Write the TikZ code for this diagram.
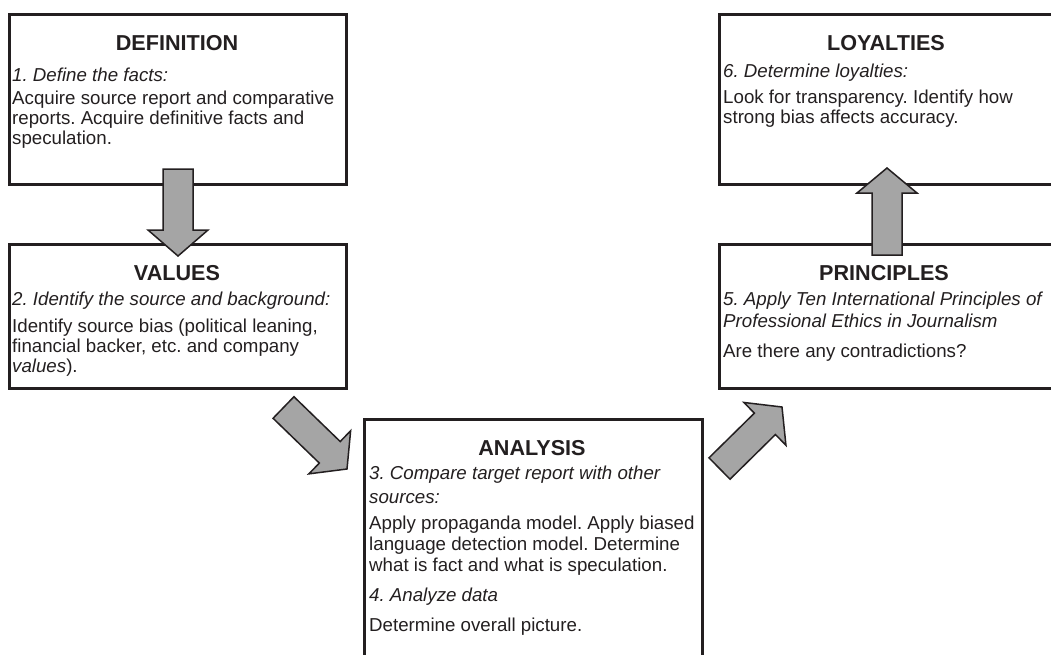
\documentclass[tikz,border=0pt]{standalone}
\usepackage{fontspec}
\setmainfont{Liberation Sans}
\usetikzlibrary{calc}
\frenchspacing
\definecolor{ink}{HTML}{231F20}
\definecolor{arrowgray}{HTML}{A5A5A5}
\tikzset{
  box/.style={draw=ink, line width=3.4pt, anchor=north west, inner sep=0pt},
  head/.style={anchor=base, inner sep=0pt, text=ink, font=\fontsize{21.6}{24}\selectfont\bfseries},
  sub/.style={anchor=base west, inner sep=0pt, text=ink, font=\fontsize{18.7}{20}\selectfont\itshape},
  body/.style={anchor=base west, inner sep=0pt, text=ink, font=\fontsize{18.7}{20}\selectfont},
  barrow/.style={draw=ink, fill=arrowgray, line width=1.5pt, line join=miter}
}
\newcommand\blockarrow[3]{%
  \coordinate (#1-h) at ($(#2)!#3!(#1)$);
  \draw[barrow] ($(#1)!15pt!90:(#2)$) -- ($(#1-h)!15pt!90:(#2)$) -- ($(#1-h)!30pt!90:(#2)$) -- (#2)
    -- ($(#1-h)!30pt!-90:(#2)$) -- ($(#1-h)!15pt!-90:(#2)$) -- ($(#1)!15pt!-90:(#2)$) -- cycle;}
\begin{document}
\frenchspacing
\begin{tikzpicture}[x=1pt,y=-1pt]
\useasboundingbox (0,0) rectangle (1051,654);
\clip (0,0) rectangle (1051,654);
% boxes
\node[box, minimum width=337pt, minimum height=170pt] (def) at (8,13) {};
\node[box, minimum width=337pt, minimum height=144pt] (val) at (8,243) {};
\node[box, minimum width=338pt, minimum height=300pt] (ana) at (363,418) {};
\node[box, minimum width=337pt, minimum height=170pt] (loy) at (718,13) {};
\node[box, minimum width=337pt, minimum height=144pt] (pri) at (718,243) {};
% DEFINITION
\node[head] (defh) at (177,50) {DEFINITION};
\node[sub] (def1) at (12,81) {1. Define the facts:};
\node[body] (def2) at (12,104) {Acquire source report and comparative};
\node[body] (def3) at (12,124) {reports. Acquire definitive facts and};
\node[body] (def4) at (12,144) {speculation.};
% VALUES
\node[head] (valh) at (177,280) {VALUES};
\node[sub] (val1) at (12,305) {2. Identify the source and background:};
\node[body] (val2) at (12,332) {Identify source bias (political leaning,};
\node[body] (val3) at (12,352) {financial backer, etc. and company};
\node[body] (val4) at (12,372) {\textit{values}).};
% ANALYSIS
\node[head] (anah) at (532,455) {ANALYSIS};
\node[sub] (ana1) at (369,479) {3. Compare target report with other};
\node[sub] (ana2) at (369,503) {sources:};
\node[body] (ana3) at (369,529) {Apply propaganda model. Apply biased};
\node[body] (ana4) at (369,550) {language detection model. Determine};
\node[body] (ana5) at (369,571) {what is fact and what is speculation.};
\node[sub] (ana6) at (369,601) {4. Analyze data};
\node[body] (ana7) at (369,631) {Determine overall picture.};
% LOYALTIES
\node[head] (loyh) at (886,50) {LOYALTIES};
\node[sub] (loy1) at (723,77) {6. Determine loyalties:};
\node[body] (loy2) at (723,103) {Look for transparency. Identify how};
\node[body] (loy3) at (723,123) {strong bias affects accuracy.};
% PRINCIPLES
\node[head] (prih) at (884,280) {PRINCIPLES};
\node[sub] (pri1) at (723,305) {5. Apply Ten International Principles of};
\node[sub] (pri2) at (723,327) {Professional Ethics in Journalism};
\node[body] (pri3) at (723,357) {Are there any contradictions?};
% arrows
\coordinate (a1s) at (178,169); \coordinate (a1t) at (178,256);
\coordinate (a2s) at (283.5,407.5); \coordinate (a2t) at (347,469);
\coordinate (a3s) at (719.5,468.5); \coordinate (a3t) at (782,407);
\coordinate (a4s) at (887,255); \coordinate (a4t) at (887,168);
\blockarrow{a1s}{a1t}{26pt}
\blockarrow{a2s}{a2t}{24pt}
\blockarrow{a3s}{a3t}{24pt}
\blockarrow{a4s}{a4t}{25pt}
\end{tikzpicture}
\end{document}
